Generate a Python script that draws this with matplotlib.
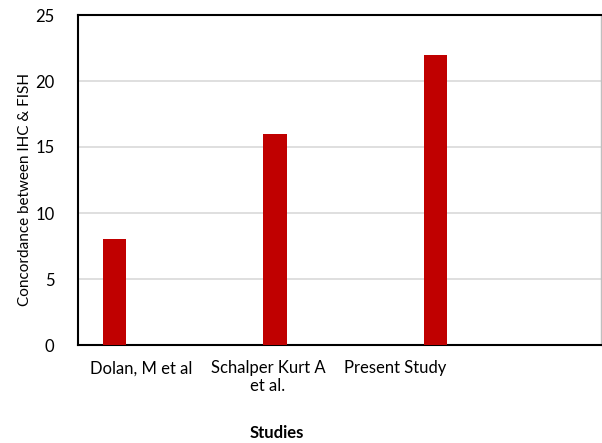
import matplotlib
matplotlib.use('Agg')
import matplotlib.pyplot as plt

# concordance counts per study
studies = ['Dolan, M et al', 'Schalper Kurt A\net al.', 'Present Study']
concordance = [8, 16, 22]
label_offsets = [0.165, -0.044, -0.252]

plt.rcParams['font.family'] = ['Lato', 'DejaVu Sans']

fig = plt.figure(figsize=(6.02, 4.43), dpi=100)
ax = fig.add_axes([78 / 602, 1 - 345 / 443, 523 / 602, 330 / 443])

x = list(range(len(concordance)))
ax.bar(x, concordance, width=0.145, color='#C00000', zorder=3)

ax.set_xlim(-0.227, 3.03)
ax.set_ylim(0, 25)
ax.set_yticks([0, 5, 10, 15, 20, 25])
ax.yaxis.grid(True, color='#D9D9D9', linewidth=1.2, zorder=0)

ax.set_xticks([i + o for i, o in zip(x, label_offsets)])
ax.set_xticklabels(studies, fontsize=12, linespacing=1.1)
ax.tick_params(axis='x', length=0, pad=11)
ax.tick_params(axis='y', length=0, pad=17, labelsize=12)

for side in ['left', 'bottom', 'top']:
    ax.spines[side].set_color('black')
    ax.spines[side].set_linewidth(1.5)
ax.spines['right'].set_color('#BFBFBF')
ax.spines['right'].set_linewidth(1)

fig.text(25 / 602, 1 - 190 / 443, 'Concordance between IHC & FISH', fontsize=11,
         rotation=90, ha='center', va='center')
fig.text(277 / 602, 1 - 433 / 443, 'Studies', fontsize=12, fontweight='bold',
         ha='center', va='center')

fig.savefig('out.png', dpi=100)
